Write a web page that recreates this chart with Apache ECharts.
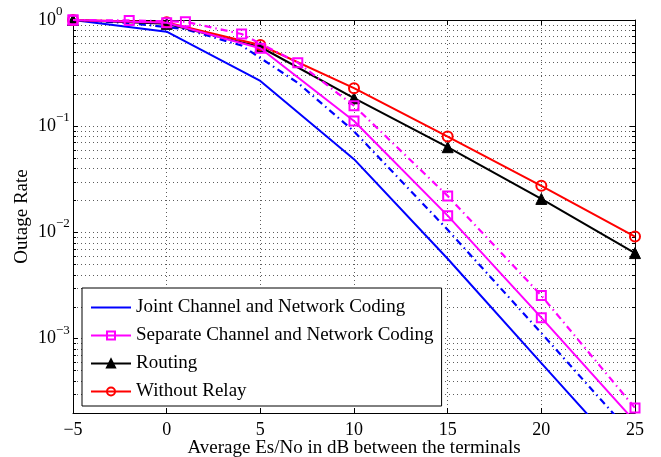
<!DOCTYPE html>
<html><head><meta charset="utf-8">
<script src="https://cdn.jsdelivr.net/npm/echarts@6/dist/echarts.min.js"></script>
<style>html,body{margin:0;padding:0;background:#fff}#c{width:661px;height:457px}</style>
</head><body><div id="c"></div>
<script>
// x positions (dB)
const xMain = [-5, 0, 5, 10, 15, 20, 25];
const xSim = [-5, -2, 1, 4, 7, 10, 15, 20, 25];
// series values (outage rate)
const jointVals = [1.0, 0.776, 0.267, 0.049, 0.00566, 0.00059, 0.000062];
const jointDashVals = [1.0, 0.937, 0.82, 0.575, 0.256, 0.0896, 0.0106, 0.00113, 0.000117];
const sepVals = [1.0, 0.943, 0.542, 0.112, 0.0144, 0.00158, 0.000166];
const sepDashVals = [1.0, 0.99, 0.964, 0.738, 0.397, 0.156, 0.0221, 0.00255, 0.000223];
const routingVals = [1.0, 0.92, 0.557, 0.1835, 0.0635, 0.0207, 0.0064];
const noRelayVals = [1.0, 0.95, 0.582, 0.228, 0.0799, 0.0275, 0.00916];
// names
const seriesNames = ['Joint Channel and Network Coding', 'Separate Channel and Network Coding', 'Routing', 'Without Relay'];
const xTitle = 'Average Es/No in dB between the terminals';
const yTitle = 'Outage Rate';

const FONT = '"Liberation Serif", "Times New Roman", serif';
const dotted = {color: '#333', width: 0.8, type: [1, 3]};
const dashDot = [7, 4, 1.5, 4];

function pairs(xs, ys) { return xs.map((x, i) => [x, ys[i]]); }
function yLabel(v) {
  const e = Math.log10(v), r = Math.round(e);
  if (Math.abs(e - r) > 1e-6) return '';
  return '{b|10}{s|' + (r < 0 ? '\u2212' + (-r) : String(r)) + '}';
}

const chart = echarts.init(document.getElementById('c'), null, {renderer: 'canvas'});
const option = {
  animation: false,
  grid: {left: 73, right: 26, top: 20, bottom: 44, containLabel: false, outerBoundsMode: 'none'},
  xAxis: [{
    type: 'value', min: -5, max: 25, interval: 5, position: 'bottom',
    axisLine: {show: true, onZero: false, lineStyle: {color: '#000', width: 1}},
    axisTick: {inside: true, length: 5, lineStyle: {color: '#000'}},
    axisLabel: {formatter: v => String(v).replace('-', '\u2212'), fontFamily: FONT, fontSize: 18, color: '#000', margin: 8},
    splitLine: {show: true, lineStyle: dotted},
    name: xTitle, nameLocation: 'middle', nameGap: 26, nameMoveOverlap: false,
    nameTextStyle: {fontFamily: FONT, fontSize: 19, color: '#000'}
  }, {
    type: 'value', min: -5, max: 25, interval: 5, position: 'top',
    axisLine: {show: true, onZero: false, lineStyle: {color: '#000', width: 1}},
    axisTick: {inside: true, length: 5, lineStyle: {color: '#000'}},
    axisLabel: {show: false}, splitLine: {show: false}
  }],
  yAxis: [{
    type: 'log', logBase: 10, min: 2e-4, max: 1, position: 'left',
    axisLine: {show: true, onZero: false, lineStyle: {color: '#000', width: 1}},
    axisTick: {inside: true, length: 5, lineStyle: {color: '#000'}},
    minorTick: {show: true, splitNumber: 9, length: 3, lineStyle: {color: '#000'}},
    splitLine: {show: true, lineStyle: dotted},
    minorSplitLine: {show: true, lineStyle: dotted},
    axisLabel: {
      formatter: yLabel, align: 'left', margin: 35,
      rich: {
        b: {fontFamily: FONT, fontSize: 18, color: '#000', lineHeight: 30},
        s: {fontFamily: FONT, fontSize: 13, color: '#000', verticalAlign: 'top', lineHeight: 14}
      }
    },
    name: yTitle, nameLocation: 'middle', nameGap: 41, nameMoveOverlap: false,
    nameTextStyle: {fontFamily: FONT, fontSize: 19, color: '#000'}
  }, {
    type: 'log', logBase: 10, min: 2e-4, max: 1, position: 'right',
    axisLine: {show: true, onZero: false, lineStyle: {color: '#000', width: 1}},
    axisTick: {inside: true, length: 5, lineStyle: {color: '#000'}},
    minorTick: {show: true, splitNumber: 9, length: 3, lineStyle: {color: '#000'}},
    axisLabel: {show: false}, splitLine: {show: false}, minorSplitLine: {show: false}
  }],
  legend: {
    data: [
      {name: seriesNames[0], icon: 'path://M0,0h40v2h-40z'},
      seriesNames[1], seriesNames[2], seriesNames[3]
    ],
    orient: 'vertical', left: 82, top: 288,
    padding: [10, 8, 5, 8], itemGap: 9, itemWidth: 40, itemHeight: 10,
    backgroundColor: '#fff', borderColor: '#000', borderWidth: 1, borderRadius: 0,
    textStyle: {fontFamily: FONT, fontSize: 19, color: '#000'}
  },
  series: [
    {name: seriesNames[0], type: 'line', data: pairs(xMain, jointVals), symbol: 'none',
     lineStyle: {color: '#0000ff', width: 2}, itemStyle: {color: '#0000ff'}, z: 3},
    {name: 'jd', type: 'line', data: pairs(xSim, jointDashVals), symbol: 'none',
     lineStyle: {color: '#0000ff', width: 2.2, type: dashDot}, itemStyle: {color: '#0000ff'}, z: 3},
    {name: seriesNames[1], type: 'line', data: pairs(xMain, sepVals), symbol: 'rect', symbolSize: 9,
     lineStyle: {color: '#ff00ff', width: 2}, itemStyle: {color: 'rgba(255,255,255,0)', borderColor: '#ff00ff', borderWidth: 2}, z: 5},
    {name: 'sd', type: 'line', data: pairs(xSim, sepDashVals), symbol: 'rect', symbolSize: 9,
     lineStyle: {color: '#ff00ff', width: 2.2, type: dashDot}, itemStyle: {color: 'rgba(255,255,255,0)', borderColor: '#ff00ff', borderWidth: 2}, z: 5},
    {name: seriesNames[2], type: 'line', data: pairs(xMain, routingVals), symbol: 'triangle', symbolSize: 11,
     lineStyle: {color: '#000', width: 2}, itemStyle: {color: '#000', borderColor: '#000', borderWidth: 1}, z: 4},
    {name: seriesNames[3], type: 'line', data: pairs(xMain, noRelayVals), symbol: 'circle', symbolSize: 10,
     lineStyle: {color: '#ff0000', width: 2}, itemStyle: {color: 'rgba(255,255,255,0)', borderColor: '#ff0000', borderWidth: 2}, z: 4}
  ]
};
chart.setOption(option);
</script>
</body></html>
